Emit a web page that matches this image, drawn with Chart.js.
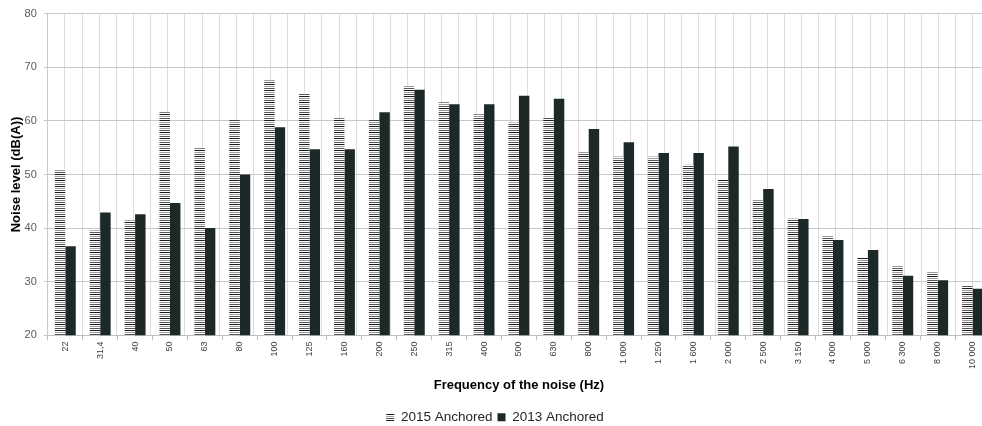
<!DOCTYPE html>
<html><head><meta charset="utf-8">
<script src="https://cdn.jsdelivr.net/npm/chart.js@4/dist/chart.umd.min.js"></script>
<style>html,body{margin:0;padding:0;background:#fff;overflow:hidden;width:982px;height:426px}
#wrap{width:992px;height:426px;position:relative}</style></head>
<body><div id="wrap"><canvas id="c"></canvas></div>
<script>
const categories = ['22','31,4','40','50','63','80','100','125','160','200','250','315','400','500','630','800','1 000','1 250','1 600','2 000','2 500','3 150','4 000','5 000','6 300','8 000','10 000'];
const anchored2015 = [51.0,39.6,41.4,61.6,54.9,60.1,67.7,65.2,60.5,60.1,66.5,63.4,61.2,59.7,60.6,54.2,53.3,53.3,51.8,49.0,45.4,41.8,38.6,34.6,33.1,32.0,29.2];
const anchored2013 = [36.6,42.9,42.6,44.7,40.0,50.0,58.8,54.7,54.7,61.6,65.8,63.1,63.1,64.7,64.1,58.5,56.0,54.0,54.0,55.2,47.3,41.7,37.8,35.9,31.1,30.3,28.7];
const seriesNames = ['2015 Anchored','2013 Anchored'];
const yMin = 20, yMax = 80, yStep = 10;

function stripePattern(){
  const pc = document.createElement('canvas');
  pc.width = 4; pc.height = 6;
  const g = pc.getContext('2d');
  g.fillStyle = '#ffffff'; g.fillRect(0,0,4,6);
  g.fillStyle = '#1a1a1a'; g.fillRect(0,0,4,1);
  g.fillStyle = '#9a9a9a'; g.fillRect(0,2,4,1);
  g.fillStyle = '#555555'; g.fillRect(0,4,4,1);
  return g.createPattern(pc,'repeat');
}
const ctx = document.getElementById('c').getContext('2d');
new Chart(ctx, {
  type: 'bar',
  data: {
    labels: categories,
    datasets: [
      {label: seriesNames[0], data: anchored2015, backgroundColor: stripePattern(), borderWidth: 0, barPercentage: 1, categoryPercentage: 0.6, xAxisID: 'x'},
      {label: seriesNames[1], data: anchored2013, backgroundColor: '#1d2828', borderWidth: 0, barPercentage: 1, categoryPercentage: 0.6, xAxisID: 'x'}
    ]
  },
  options: {
    responsive: true, maintainAspectRatio: false, animation: false,
    layout: {padding: {top: 7, left: 0, right: 2, bottom: -8}},
    plugins: {
      tooltip: {enabled: false},
      legend: {position: 'bottom', labels: {boxWidth: 8, boxHeight: 8, color: '#262626', padding: 5, font: {family: 'Liberation Sans', size: 13.5}}}
    },
    scales: {
      x: {
        type: 'category', offset: true,
        grid: {offset: true, drawOnChartArea: false, tickLength: 5, color: '#bfbfbf'},
        border: {color: '#bfbfbf'},
        ticks: {minRotation: 90, maxRotation: 90, autoSkip: false, color: '#404040', padding: 1, font: {family: 'Liberation Sans', size: 9}},
        title: {display: true, text: 'Frequency of the noise (Hz)', color: '#000', font: {family: 'Liberation Sans', size: 13, weight: 'bold'}, padding: {top: 8, bottom: 12}}
      },
      xg: {
        type: 'linear', position: 'top', min: -0.5, max: 26.5,
        ticks: {display: false, stepSize: 0.5, maxTicksLimit: 100},
        grid: {color: '#dcdcdc', drawTicks: false},
        border: {display: false}
      },
      y: {
        min: yMin, max: yMax,
        ticks: {stepSize: yStep, color: '#595959', padding: 7, font: {family: 'Liberation Sans', size: 11}},
        grid: {color: '#c8c8c8', tickLength: 4},
        border: {color: '#c8c8c8'},
        title: {display: true, text: 'Noise level (dB(A))', color: '#000', font: {family: 'Liberation Sans', size: 13, weight: 'bold'}, padding: {top: 9, bottom: -7}}
      }
    }
  }
});
</script></body></html>
